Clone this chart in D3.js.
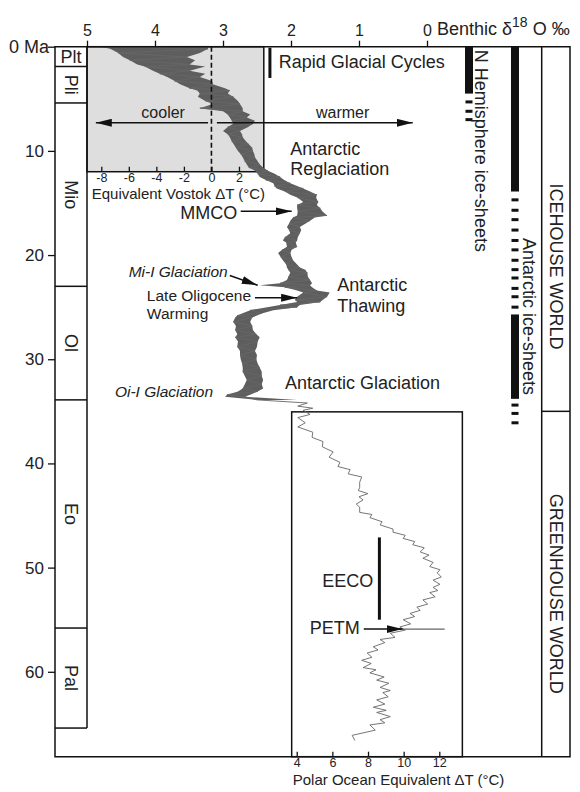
<!DOCTYPE html>
<html>
<head>
<meta charset="utf-8">
<script src="https://cdn.jsdelivr.net/npm/d3@7"></script>
<style>
  body { margin: 0; background: #fff; }
  svg { font-family: "Liberation Sans", Arial, sans-serif; }
  .axis text { fill: #222; }
  .axis line { stroke: #111; stroke-width: 1.3; }
</style>
</head>
<body>
<svg id="chart" width="580" height="792"></svg>
<script>
// benthic d18O curve, age in Ma
// cold = left (heavier) edge of the trace, warm = right (lighter) edge
const age = [
  0.0, 0.2, 0.6, 1.0, 1.3, 1.7, 1.9, 2.3, 2.6, 2.9,
  3.3, 3.6, 4.0, 4.2, 4.5, 4.8, 5.2, 5.5, 5.9, 6.2,
  6.5, 6.8, 7.1, 7.4, 7.7, 8.1, 8.4, 8.7, 9.1, 9.3,
  9.7, 10.0, 10.3, 10.6, 11.0, 11.3, 11.6, 11.9, 12.2, 12.5,
  12.8, 13.1, 13.4, 13.6, 13.9, 14.2, 14.5, 14.9, 15.2, 15.5,
  15.8, 16.2, 16.4, 16.7, 17.0, 17.3, 17.6, 17.9, 18.3, 18.6,
  18.8, 19.2, 19.5, 19.8, 20.2, 20.5, 20.9, 21.2, 21.4, 21.7,
  22.1, 22.4, 22.7, 22.9, 23.1, 23.4, 23.6, 24.0, 24.3, 24.5,
  24.8, 25.0, 25.3, 25.6, 25.8, 26.0, 26.4, 26.8, 27.2, 27.6,
  27.9, 28.3, 28.8, 29.2, 29.6, 30.0, 30.4, 30.8, 31.2, 31.6,
  32.0, 32.4, 32.8, 33.1, 33.4, 33.6, 33.9, 34.2, 34.5, 34.7,
  34.9, 35.3, 35.6, 36.1, 36.5, 37.0, 37.5, 37.9, 38.4, 38.9,
  39.4, 39.9, 40.3, 40.6, 41.0, 41.3, 41.8, 42.3, 42.6, 42.9,
  43.2, 43.5, 43.9, 44.2, 44.7, 44.9, 45.2, 45.6, 45.9, 46.3,
  46.6, 46.9, 47.2, 47.5, 47.8, 48.1, 48.5, 48.8, 49.1, 49.5,
  49.9, 50.2, 50.5, 50.9, 51.2, 51.6, 51.9, 52.2, 52.4, 52.8,
  53.1, 53.5, 53.8, 54.1, 54.4, 54.7, 55.0, 55.4, 55.7, 56.0,
  56.3, 56.7, 56.9, 57.2, 57.6, 57.9, 58.2, 58.6, 58.9, 59.2,
  59.6, 59.8, 60.1, 60.5, 60.8, 61.1, 61.5, 61.8, 62.0, 62.4,
  62.7, 63.1, 63.4, 63.7, 63.9, 64.3, 64.6, 64.9, 65.1, 65.6,
  66.1, 66.6
]
const d18oCold = [
  4.81, 4.66, 4.54, 4.47, 4.37, 4.26, 4.15, 4.03, 3.93, 3.82,
  3.71, 3.63, 3.49, 3.38, 3.34, 3.37, 3.26, 3.15, 3.34, 3.00,
  2.93, 2.90, 2.87, 2.85, 2.93, 3.00, 2.93, 2.90, 2.87, 2.85,
  2.81, 2.78, 2.74, 2.71, 2.68, 2.65, 2.62, 2.53, 2.49, 2.46,
  2.37, 2.26, 2.24, 2.21, 2.09, 2.01, 1.90, 1.82, 1.91, 1.91,
  1.90, 1.91, 1.97, 2.01, 2.03, 2.06, 2.03, 2.01, 2.09, 2.12,
  2.07, 2.06, 2.13, 2.19, 2.15, 2.12, 2.07, 2.06, 2.04, 2.01,
  2.04, 2.06, 2.16, 2.46, 2.09, 1.91, 1.82, 1.91, 1.94, 1.91,
  2.16, 2.35, 2.60, 2.72, 2.79, 2.82, 2.85, 2.81, 2.82, 2.79,
  2.82, 2.78, 2.79, 2.75, 2.75, 2.74, 2.72, 2.71, 2.71, 2.68,
  2.65, 2.68, 2.71, 2.78, 2.94, 2.97, 2.50, 2.01, 1.90, 1.87,
  1.82, 1.91, 1.90, 1.97, 1.90, 1.76, 1.69, 1.62, 1.54, 1.47,
  1.44, 1.38, 1.31, 1.24, 1.16, 1.09, 0.99, 1.09, 1.01, 0.99,
  1.00, 1.03, 1.04, 1.06, 0.99, 0.91, 0.84, 0.76, 0.69, 0.60,
  0.50, 0.43, 0.35, 0.28, 0.21, 0.16, 0.10, 0.07, 0.06, 0.01,
  -0.04, -0.10, -0.15, -0.12, -0.09, -0.07, -0.09, -0.06, -0.04, 0.01,
  0.06, 0.10, 0.15, 0.21, 0.25, 0.31, 0.35, 0.38, 0.40, 0.47,
  0.54, 0.62, 0.69, 0.75, 0.79, 0.85, 0.88, 0.93, 0.96, 0.96,
  0.94, 0.90, 0.84, 0.78, 0.74, 0.71, 0.69, 0.66, 0.65, 0.69,
  0.74, 0.76, 0.79, 0.76, 0.74, 0.71, 0.69, 0.76, 0.84, 0.96,
  1.10, 1.18
]
const d18oWarm = [
  3.22, 3.22, 3.34, 3.53, 3.41, 3.49, 3.26, 3.49, 3.26, 3.34,
  3.16, 3.15, 2.97, 2.90, 2.93, 2.85, 2.78, 2.75, 2.71, 2.71,
  2.60, 2.65, 2.53, 2.56, 2.63, 2.75, 2.72, 2.71, 2.66, 2.63,
  2.57, 2.56, 2.54, 2.53, 2.49, 2.46, 2.41, 2.34, 2.24, 2.16,
  2.10, 2.01, 1.90, 1.82, 1.72, 1.62, 1.63, 1.60, 1.62, 1.57,
  1.54, 1.47, 1.65, 1.72, 1.79, 1.87, 1.85, 1.87, 1.90, 1.91,
  1.93, 1.91, 1.99, 2.01, 1.99, 1.97, 1.91, 1.87, 1.79, 1.76,
  1.75, 1.72, 1.69, 1.72, 1.69, 1.62, 1.43, 1.47, 1.53, 1.57,
  1.87, 1.91, 2.26, 2.43, 2.50, 2.57, 2.60, 2.57, 2.56, 2.51,
  2.46, 2.49, 2.50, 2.53, 2.50, 2.51, 2.49, 2.46, 2.43, 2.43,
  2.41, 2.43, 2.41, 2.49, 2.60, 2.68, 1.91, 1.76, 1.69, 1.68,
  1.65, 1.72, 1.75, 1.79, 1.75, 1.68, 1.60, 1.53, 1.46, 1.38,
  1.34, 1.28, 1.21, 1.13, 1.04, 0.96, 0.84, 0.99, 0.93, 0.87,
  0.90, 0.94, 0.96, 0.99, 0.88, 0.81, 0.74, 0.66, 0.59, 0.50,
  0.40, 0.32, 0.25, 0.18, 0.10, 0.04, 0.00, -0.03, -0.04, -0.09,
  -0.15, -0.19, -0.22, -0.21, -0.19, -0.19, -0.19, -0.16, -0.15, -0.12,
  -0.09, -0.01, 0.06, 0.10, 0.15, 0.18, 0.21, 0.24, 0.25, 0.32,
  0.40, 0.47, 0.54, 0.62, 0.69, 0.72, 0.74, 0.81, 0.84, 0.82,
  0.79, 0.75, 0.69, 0.63, 0.59, 0.56, 0.54, 0.54, 0.54, 0.57,
  0.59, 0.62, 0.65, 0.60, 0.54, 0.54, 0.54, 0.62, 0.69, 0.76,
  0.91, 1.06
]
// PETM excursion [age, from d18O, to d18O]
const petm = [55.9, 0.47, -0.26]

const epochs = ["Plt", "Pli", "Mio", "Ol", "Eo", "Pal"]
const epochBounds = [0, 1.9, 5.4, 23.0, 33.9, 55.8, 65.4]
const ageTicks = [0, 10, 20, 30, 40, 50, 60]
const d18oTicks = [5, 4, 3, 2, 1, 0]
const vostokTicks = [-8, -6, -4, -2, 0, 2]
const polarTicks = [4, 6, 8, 10, 12]

// ice-sheet columns (ages in Ma)
const nhSolid = [[0, 4.5]]
const nhDashes = [5.3, 6.2, 7.0]
const antSolid = [[0, 13.9], [25.7, 33.8]]
const antDashes = [14.7, 15.7, 16.6, 17.6, 18.6, 19.5, 20.5, 21.4, 22.2, 23.2, 24.0, 25.0, 34.4, 35.2, 36.1]
const worldNames = ["ICEHOUSE WORLD", "GREENHOUSE WORLD"]
const worldSplit = 35
const worldLabelAge = [21.1, 52.5]

const svg = d3.select("#chart")
const ink = "#222"

let y = d3.scaleLinear().domain([0, 68.15]).range([46.7, 756.7])
let x = d3.scaleLinear().domain([5, 0]).range([87, 427])
const yTop = y(0), yBottom = y.range()[1]
const xLeft = 55, xRight = 570

// Vostok dT axis: 0 degC at d18O 3.17, 0.2025 permil per degC
let xV = d3.scaleLinear().domain([-8, 2]).range([x(3.17 + 8 * 0.2025), x(3.17 - 2 * 0.2025)])
// Polar ocean dT axis
let xP = d3.scaleLinear().domain([4, 12]).range([x(1.916), x(-0.181)])

let defs = svg.append("defs")
defs.append("marker").attr("id", "head")
    .attr("viewBox", "0 0 10 10").attr("refX", 10).attr("refY", 5)
    .attr("markerUnits", "userSpaceOnUse")
    .attr("markerWidth", 16).attr("markerHeight", 8)
    .attr("preserveAspectRatio", "none").attr("orient", "auto")
    .append("path").attr("d", "M0,0 L10,5 L0,10 z").attr("fill", "#111")

// gray inset (0-12 Ma)
svg.append("rect")
    .attr("x", x(5)).attr("y", yTop)
    .attr("width", x(2.4) - x(5)).attr("height", y(12) - yTop)
    .attr("fill", "#dedede").attr("stroke", "#111").attr("stroke-width", 1.5)

// polar ocean inset box
svg.append("rect")
    .attr("x", x(1.99)).attr("y", y(35.05))
    .attr("width", x(-0.52) - x(1.99)).attr("height", yBottom - y(35.05))
    .attr("fill", "none").attr("stroke", "#111").attr("stroke-width", 1.5)

// the d18O trace
let rows = age.map((a, i) => ({ age: a, cold: d18oCold[i], warm: d18oWarm[i] }))
let band = d3.area().y(d => y(d.age)).x0(d => x(d.cold)).x1(d => x(d.warm))
svg.append("path").datum(rows.filter(d => d.age <= 34))
    .attr("d", band).attr("fill", "#5e5e5e")
let zig = d3.line().y(d => y(d.age)).x((d, i) => x(i % 2 ? d.warm : d.cold))
svg.append("path").datum(rows)
    .attr("d", zig).attr("fill", "none").attr("stroke", "#666").attr("stroke-width", 0.9)
svg.append("line")
    .attr("x1", x(petm[1])).attr("x2", x(petm[2])).attr("y1", y(petm[0])).attr("y2", y(petm[0]))
    .attr("stroke", "#666").attr("stroke-width", 1.2)

// dashed zero line of the Vostok scale
svg.append("line")
    .attr("x1", xV(0)).attr("x2", xV(0)).attr("y1", yTop).attr("y2", y(12))
    .attr("stroke", "#111").attr("stroke-width", 1.6).attr("stroke-dasharray", "5,3")

// frame
let frame = svg.append("g").attr("stroke", "#111").attr("stroke-width", 1.5).attr("fill", "none")
frame.append("path").attr("d", `M${xRight},${yTop}H${xLeft}V${yBottom}H${xRight}Z`)
frame.append("line").attr("x1", x(5)).attr("x2", x(5)).attr("y1", yTop).attr("y2", y(epochBounds[6]))
frame.append("line").attr("x1", 541.7).attr("x2", 541.7).attr("y1", yTop).attr("y2", yBottom)
frame.append("line").attr("x1", 541.7).attr("x2", xRight).attr("y1", y(worldSplit)).attr("y2", y(worldSplit))
epochBounds.slice(1).forEach(b => {
    frame.append("line").attr("x1", xLeft).attr("x2", x(5)).attr("y1", y(b)).attr("y2", y(b))
})

// epoch labels
epochs.forEach((e, i) => {
    let cy = (y(epochBounds[i]) + y(epochBounds[i + 1])) / 2
    let cx = (xLeft + x(5)) / 2
    let t = svg.append("text").attr("fill", ink).attr("font-size", 18)
        .attr("text-anchor", "middle").attr("dominant-baseline", "central").text(e)
    if (i == 0) t.attr("x", cx).attr("y", cy)
    else t.attr("transform", `translate(${cx},${cy}) rotate(90)`)
})

// axes
let yAxis = d3.axisLeft(y).tickValues(ageTicks).tickSize(7).tickPadding(4)
    .tickFormat(d => d == 0 ? "0 Ma" : d)
let gy = svg.append("g").attr("class", "axis").attr("transform", `translate(${xLeft},0)`).call(yAxis)
gy.select(".domain").remove()
gy.selectAll("text").attr("font-size", 17).attr("font-family", null)
gy.selectAll(".tick").filter(d => d == 0).select("text").attr("x", -6).attr("font-size", 18)

let xAxis = d3.axisTop(x).tickValues(d18oTicks).tickSize(6).tickPadding(5).tickFormat(d => d)
let gx = svg.append("g").attr("class", "axis").attr("transform", `translate(0,${yTop})`).call(xAxis)
gx.select(".domain").remove()
gx.selectAll("text").attr("font-size", 16).attr("font-family", null)

let benthic = svg.append("text").attr("x", x(0) + 10).attr("y", 35)
    .attr("fill", ink).attr("font-size", 18)
benthic.append("tspan").text("Benthic δ")
benthic.append("tspan").attr("dy", -8).attr("font-size", 14).text("18")
benthic.append("tspan").attr("dy", 8).text(" O ‰")

let vAxis = d3.axisBottom(xV).tickValues(vostokTicks).tickSize(-5).tickPadding(1).tickFormat(d => d)
let gv = svg.append("g").attr("class", "axis").attr("transform", `translate(0,${y(12)})`).call(vAxis)
gv.select(".domain").remove()
gv.selectAll("text").attr("font-size", 12.5).attr("font-family", null)
svg.append("text").attr("x", (x(5) + x(2.4)) / 2 + 3).attr("y", y(12) + 27)
    .attr("text-anchor", "middle").attr("fill", ink).attr("font-size", 15)
    .text("Equivalent Vostok ΔT (°C)")

let pAxis = d3.axisBottom(xP).tickValues(polarTicks).tickSize(-5).tickPadding(1).tickFormat(d => d)
let gp = svg.append("g").attr("class", "axis").attr("transform", `translate(0,${yBottom})`).call(pAxis)
gp.select(".domain").remove()
gp.selectAll("text").attr("font-size", 12.5).attr("font-family", null)
svg.append("text").attr("x", xP(4) - 4).attr("y", yBottom + 28)
    .attr("fill", ink).attr("font-size", 15)
    .text("Polar Ocean Equivalent ΔT (°C)")

// cooler / warmer arrows
let arrows = svg.append("g").attr("stroke", "#111").attr("stroke-width", 1.5)
function arrow(a1, d1, a2, d2) {
    arrows.append("line")
        .attr("x1", x(d1)).attr("y1", y(a1)).attr("x2", x(d2)).attr("y2", y(a2))
        .attr("marker-end", "url(#head)")
}
arrow(7.3, 3.22, 7.3, 4.87)
arrow(7.3, 3.09, 7.3, 0.21)
arrow(15.8, 2.74, 15.8, 1.99)   // MMCO
arrow(21.96, 2.90, 22.9, 2.49)  // Mi-1
arrow(24.1, 2.53, 24.1, 1.91)   // late Oligocene warming
arrow(55.9, 0.93, 55.9, 0.36)   // PETM

// lines: one string or a list of lines, lh pixels apart
function label(lines, d, a, size, anchor, italic, lh) {
    lines = [].concat(lines)
    let shift = lines.length > 1 ? (lh - 16) / 2 : 0
    let t = svg.append("text").attr("x", x(d)).attr("y", y(a) - shift)
        .attr("fill", ink).attr("font-size", size)
        .attr("text-anchor", anchor || "start")
        .attr("font-style", italic ? "italic" : null)
    lines.forEach((s, i) => {
        t.append("tspan").attr("x", x(d)).attr("dy", i ? lh : 0).text(s)
    })
}
label("cooler", 3.88, 6.85, 16, "middle")
label("warmer", 1.24, 6.85, 16, "middle")
label("Rapid Glacial Cycles", 2.18, 2.04, 18)
label(["Antarctic", "Reglaciation"], 2.01, 10.6, 18, "start", false, 20.3)
label("MMCO", 2.79, 16.5, 18, "end")
label("Mi-I Glaciation", 2.93, 22.1, 15.5, "end", true)
label(["Late Oligocene", "Warming"], 4.12, 24.5, 15.5, "start", false, 17.5)
label(["Antarctic", "Thawing"], 1.32, 23.7, 18, "start", false, 20.3)
label("Oi-I Glaciation", 4.59, 33.6, 15.5, "start", true)
label("Antarctic Glaciation", 2.09, 32.9, 18)
label("EECO", 0.79, 51.9, 18, "end")
label("PETM", 0.99, 56.4, 18, "end")

// event bars
let bars = svg.append("g").attr("stroke", "#111").attr("stroke-width", 3)
bars.append("line").attr("x1", x(2.31)).attr("x2", x(2.31)).attr("y1", y(0.1)).attr("y2", y(3.0))
bars.append("line").attr("x1", x(0.70)).attr("x2", x(0.70)).attr("y1", y(47.1)).attr("y2", y(55.0))

// ice-sheet columns
function column(cx, solid, dashes) {
    solid.forEach(s => {
        svg.append("rect").attr("x", cx - 4).attr("width", 8)
            .attr("y", y(s[0])).attr("height", y(s[1]) - y(s[0])).attr("fill", "#111")
    })
    dashes.forEach(d => {
        svg.append("rect").attr("x", cx - 3.5).attr("width", 7)
            .attr("y", y(d) - 1.5).attr("height", 3).attr("fill", "#111")
    })
}
column(469, nhSolid, nhDashes)
column(515, antSolid, antDashes)

function vtext(txt, cx, cy, anchor) {
    svg.append("text").attr("transform", `translate(${cx},${cy}) rotate(90)`)
        .attr("text-anchor", anchor).attr("dominant-baseline", "central")
        .attr("fill", ink).attr("font-size", 18).text(txt)
}
vtext("N Hemisphere ice-sheets", 480.5, y(0.3), "start")
vtext("Antarctic ice-sheets", 529, y(25.9), "middle")
worldNames.forEach((w, i) => vtext(w, 555.5, y(worldLabelAge[i]), "middle"))
</script>
</body>
</html>
